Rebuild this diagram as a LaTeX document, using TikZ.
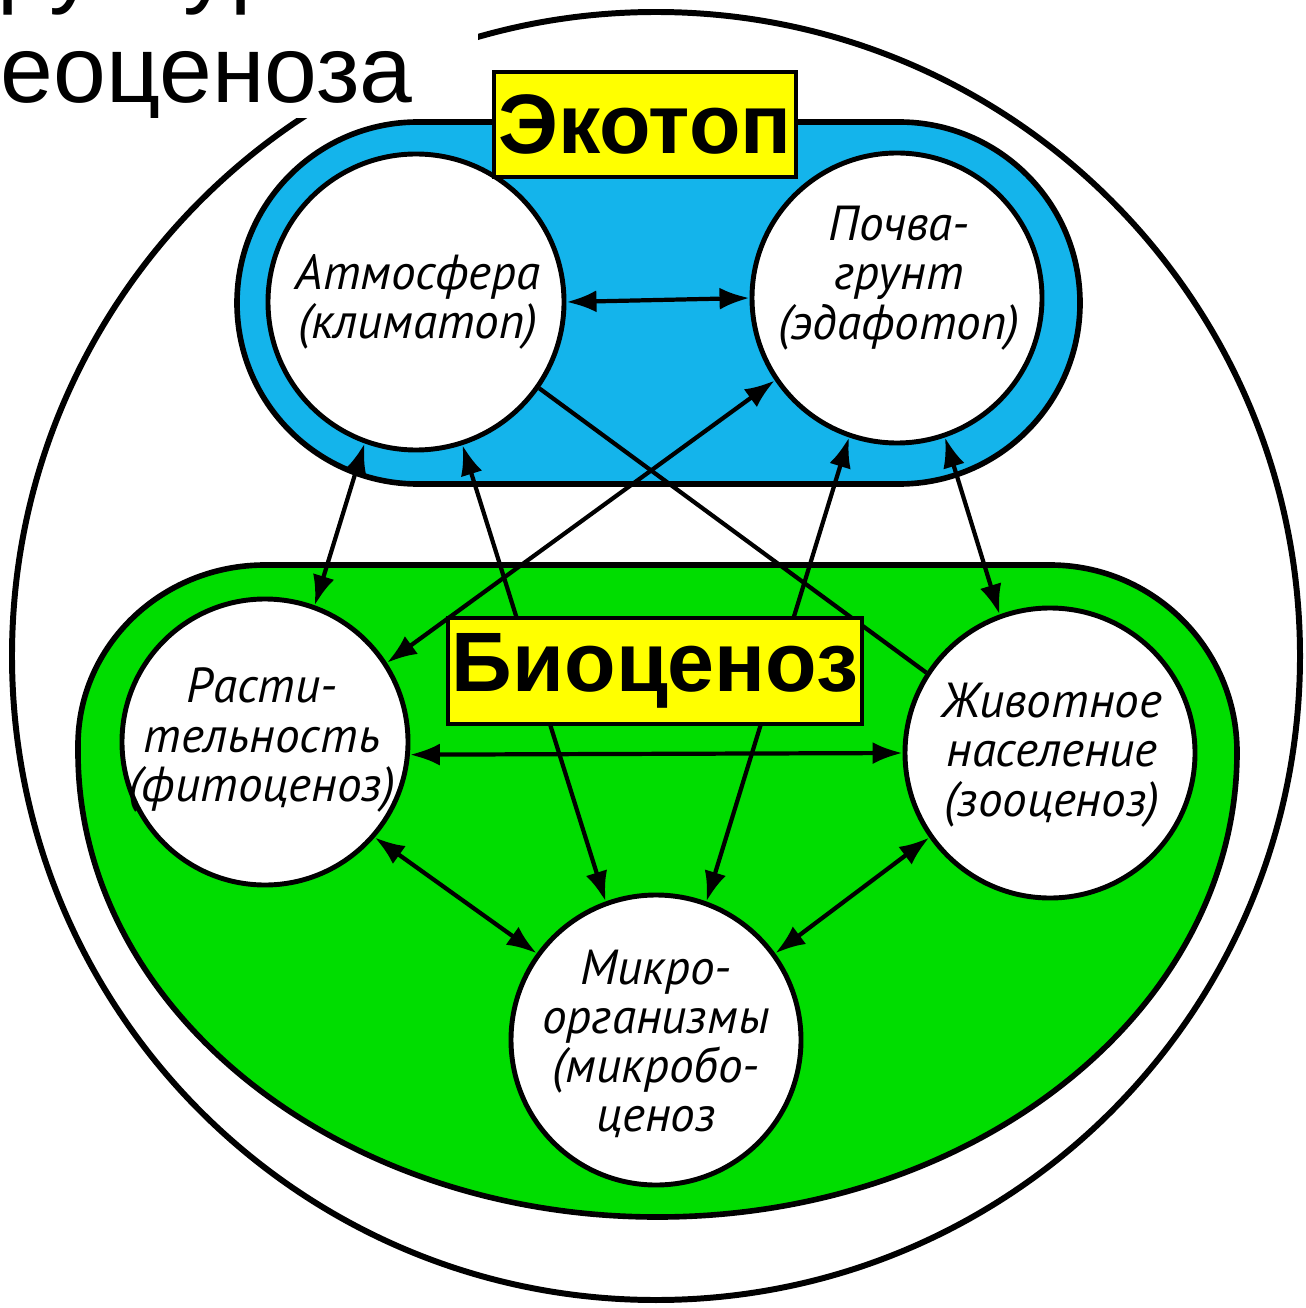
\documentclass[tikz,border=0pt]{standalone}
\usepackage{fontspec}
\setmainfont{Liberation Sans}
\newfontfamily\partfont{PT Sans}
\usetikzlibrary{arrows.meta, positioning}

\definecolor{ecoblue}{RGB}{20,180,235}
\definecolor{biogreen}{RGB}{0,221,0}
\definecolor{tagyellow}{RGB}{255,255,0}

\tikzset{
    part/.style={circle, draw, line width=1.4pt, fill=white, inner sep=0pt},
    partlabel/.style={align=center, inner sep=0pt, font=\partfont\itshape\fontsize{14}{14}\selectfont},
    tag/.style={draw, line width=1pt, fill=tagyellow, inner sep=0pt, font=\bfseries\fontsize{24}{30}\selectfont},
    link/.style={line width=1.2pt, {Latex[length=3mm,width=2.2mm]}-{Latex[length=3mm,width=2.2mm]}},
    plainlink/.style={line width=1.2pt},
}

\begin{document}
\begin{tikzpicture}
    \useasboundingbox (0,0) rectangle (13.06,-13.08);

    % outer ring
    \draw[line width=1.7pt] (6.56,-6.56) circle[radius=6.44];

    % ecotope and biocenosis areas
    \draw[line width=1.6pt, fill=ecoblue, rounded corners=1.81cm] (2.37,-1.22) rectangle (10.80,-4.84);
    \draw[line width=1.6pt, fill=biogreen] (0.78,-7.45)
        arc[start angle=180, end angle=90, x radius=1.87, y radius=1.80] -- (10.50,-5.65)
        arc[start angle=90, end angle=0, radius=1.87]
        arc[start angle=0, end angle=-180, x radius=5.795, y radius=4.65] -- cycle;

    \node[part, minimum size=2.96cm] (atm) at (4.16,-3.02) {};
    \node[part, minimum size=2.90cm] (soil) at (8.97,-2.98) {};
    \node[part, minimum size=2.86cm] (plant) at (2.65,-7.42) {};
    \node[part, minimum size=2.90cm] (fauna) at (10.50,-7.53) {};
    \node[part, minimum size=2.90cm] (micro) at (6.56,-10.40) {};

    \node[partlabel] (atmtext) at (4.18,-3.02) {Атмосфера\\(климатоп)};
    \node[partlabel] (soiltext) at (8.99,-2.78) {Почва-\\грунт\\(эдафотоп)};
    \node[partlabel] (planttext) at (2.62,-7.40) {Расти-\\тельность\\(фитоценоз)};
    \node[partlabel] (faunatext) at (10.52,-7.55) {Животное\\население\\(зооценоз)};
    \node[partlabel] (microtext) at (6.56,-10.44) {Микро-\\организмы\\(микробо-\\ценоз};

    \draw
    (atm.0) edge[link] (soil.180)
    (atm.-110) edge[link] (plant.70)
    (atm.-72) edge[link] (micro.110)
    (atm.-35) edge[plainlink] (fauna.147)
    (plant.33) edge[link] (soil.-146)
    (soil.-109) edge[link] (micro.70)
    (soil.-71) edge[link] (fauna.110)
    (plant.-5) edge[link] (fauna.180)
    (plant.-41) edge[link] (micro.144)
    (fauna.-145) edge[link] (micro.36);

    \node[tag, minimum width=3.02cm, minimum height=1.05cm] (ecotop) at (6.45,-1.245) {Экотоп};
    \node[tag, minimum width=4.14cm, minimum height=1.06cm] (biocenoz) at (6.55,-6.71) {Биоценоз};

    % slide title, cut off
    \fill[white] (0,0) rectangle (4.78,-1.18);
    \begin{scope}
        \clip (0,0) rectangle (4.78,-1.18);
        \node[anchor=base west, inner sep=0pt, font=\fontsize{27}{34}\selectfont] (titletop) at (-1.15,0.04) {Структура};
        \node[anchor=base west, inner sep=0pt, font=\fontsize{27}{34}\selectfont] (title) at (0.0,-1.03) {еоценоза};
    \end{scope}
\end{tikzpicture}
\end{document}
